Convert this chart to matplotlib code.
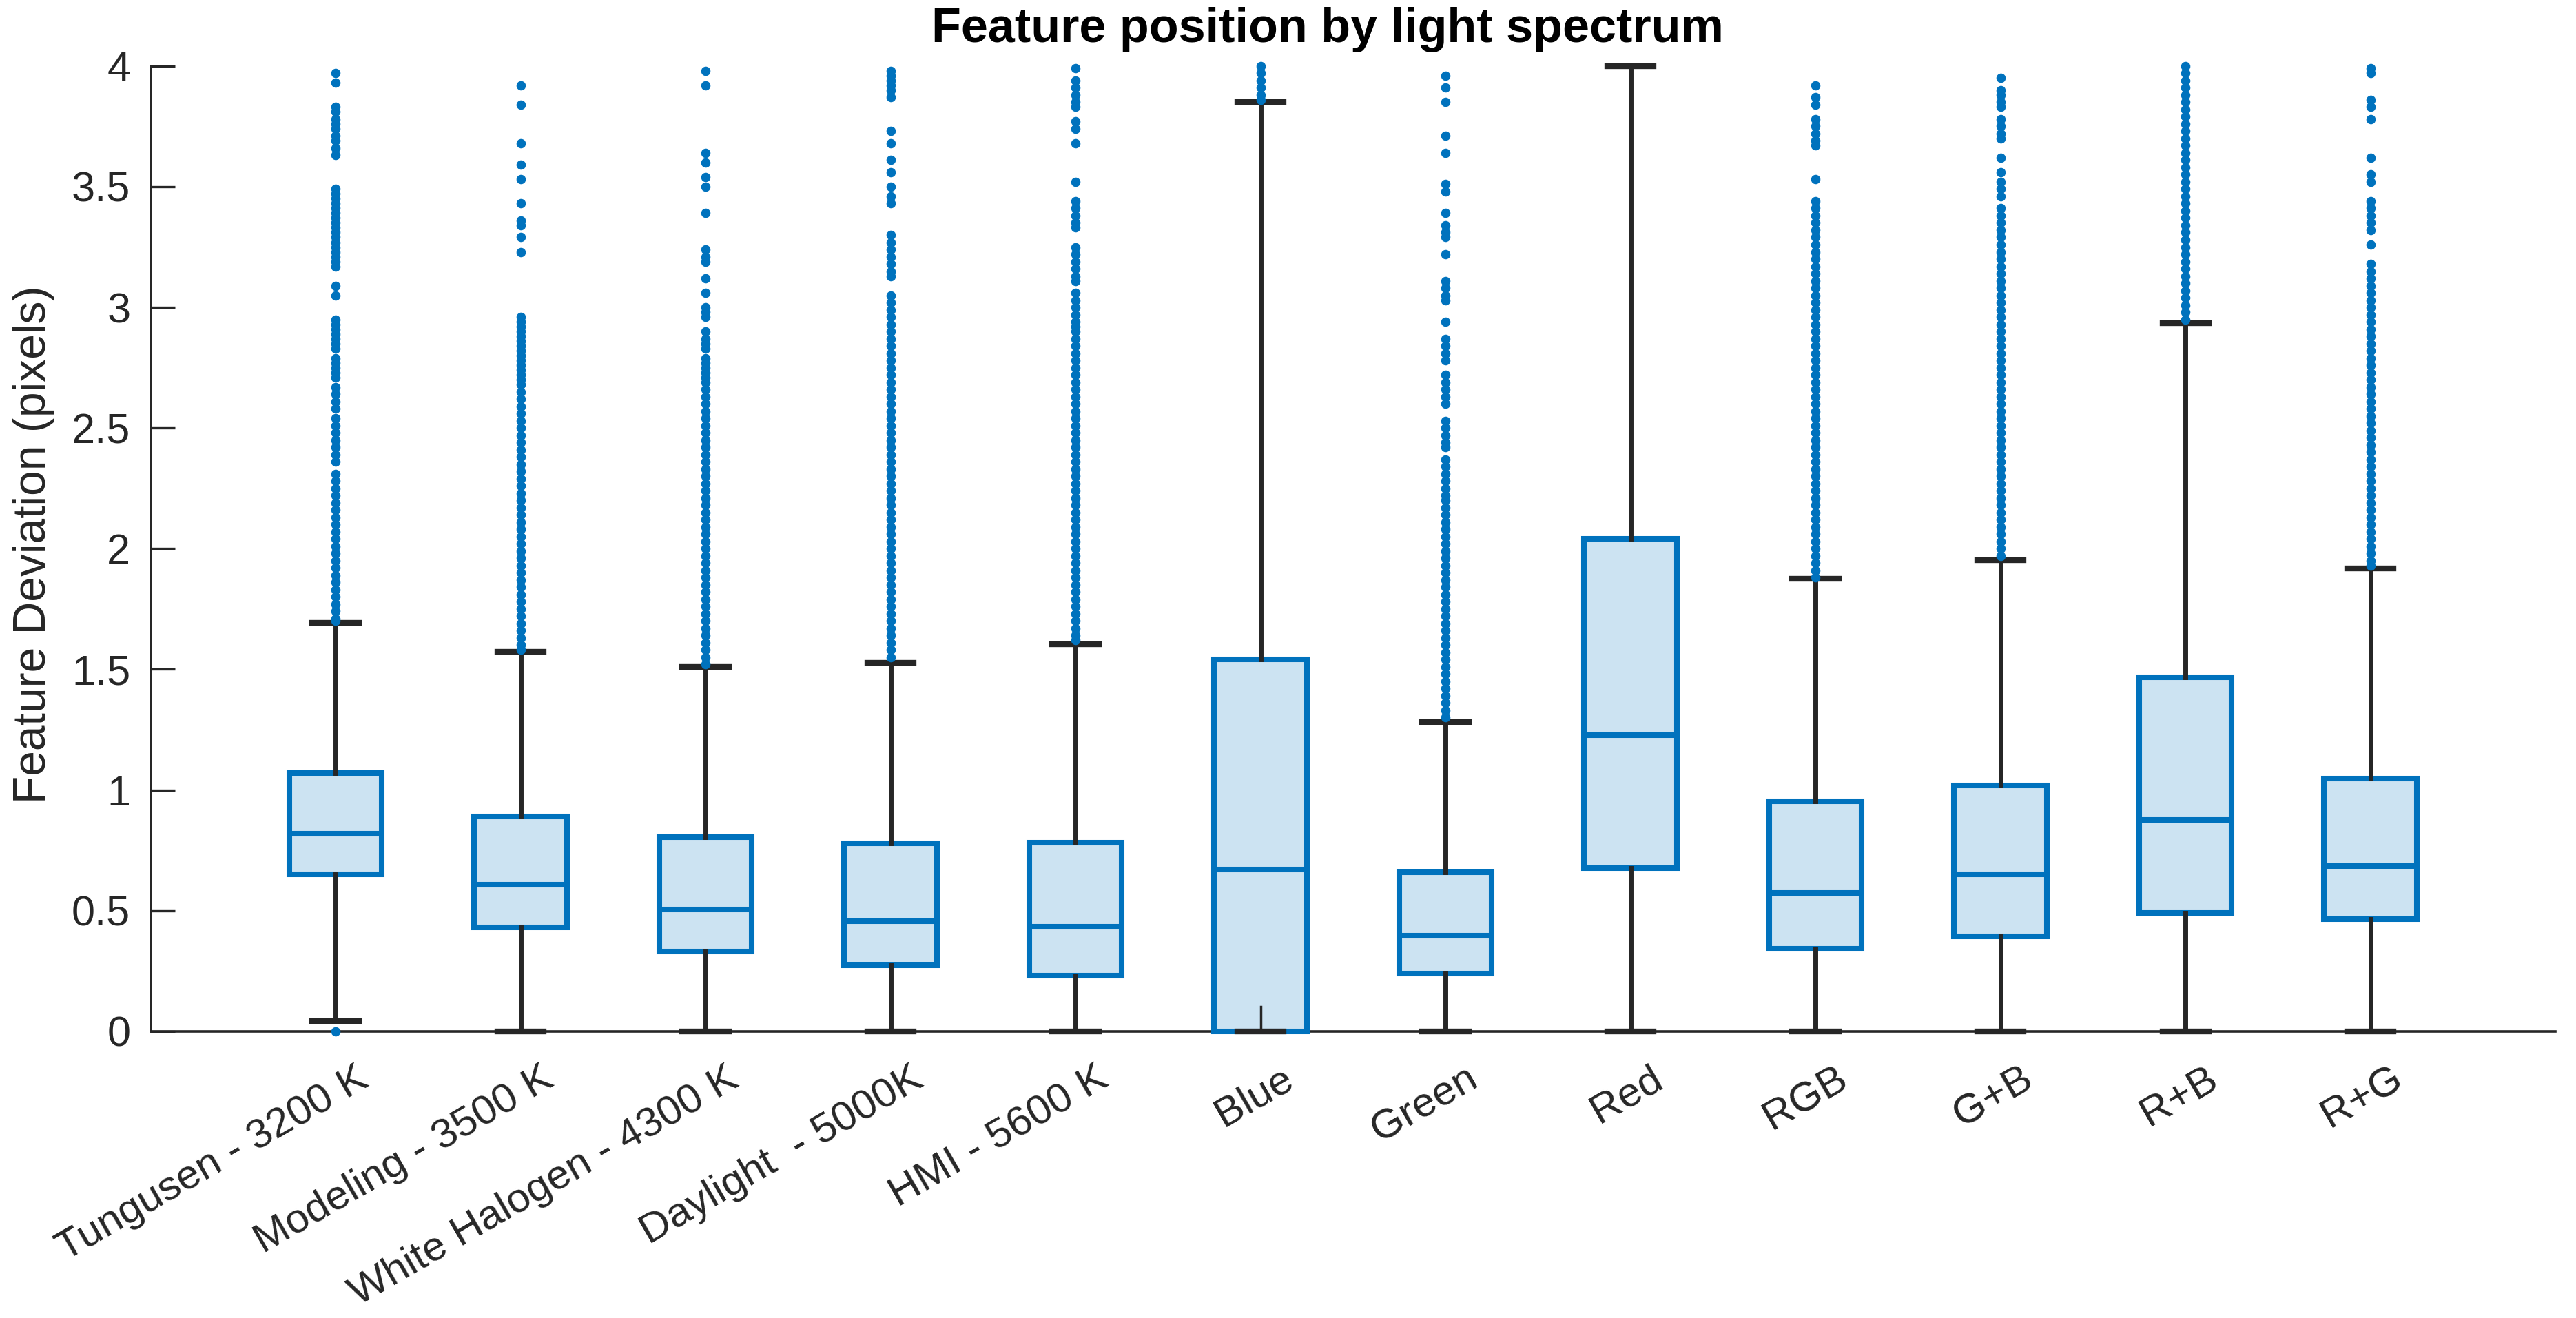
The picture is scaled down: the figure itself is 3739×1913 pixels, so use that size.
import matplotlib
matplotlib.use('Agg')
import matplotlib.pyplot as plt
from matplotlib.transforms import ScaledTranslation

plt.rcParams['font.family'] = ['Liberation Sans', 'DejaVu Sans']

categories = ['Tungusen - 3200 K', 'Modeling - 3500 K', 'White Halogen - 4300 K',
              'Daylight  - 5000K', 'HMI - 5600 K', 'Blue', 'Green', 'Red',
              'RGB', 'G+B', 'R+B', 'R+G']

q1 = [0.651, 0.431, 0.330, 0.274, 0.230, 0.0, 0.238, 0.675, 0.343, 0.393, 0.490, 0.464]
median = [0.820, 0.607, 0.505, 0.456, 0.434, 0.670, 0.395, 1.226, 0.574, 0.651, 0.875, 0.684]
q3 = [1.069, 0.889, 0.805, 0.779, 0.782, 1.541, 0.659, 2.041, 0.954, 1.020, 1.467, 1.048]
whisker_low = [0.043, 0.0, 0.0, 0.0, 0.0, 0.0, 0.0, 0.0, 0.0, 0.0, 0.0, 0.0]
whisker_high = [1.693, 1.572, 1.510, 1.528, 1.603, 3.851, 1.282, 4.0, 1.875, 1.951, 2.934, 1.918]
blue_stub_top = 0.103

out_tungusen = [0.0, 3.97, 3.93, 3.83, 3.81, 3.78, 3.76, 3.74, 3.71, 3.69, 3.66, 3.63,
                3.49, 3.47, 3.45, 3.43, 3.41, 3.39, 3.37, 3.35, 3.33, 3.31, 3.29, 3.27,
                3.25, 3.23, 3.21, 3.19, 3.17, 3.09, 3.05, 2.95, 2.93, 2.91, 2.89, 2.87,
                2.85, 2.83, 2.79, 2.77, 2.75, 2.73, 2.71, 2.67, 2.64, 2.61, 2.58, 2.54,
                2.51, 2.48, 2.45, 2.42, 2.39, 2.36, 2.31, 2.28, 2.25, 2.22, 2.19, 2.16,
                2.13, 2.10, 2.07, 2.04, 2.01, 1.98, 1.95, 1.92, 1.89, 1.86, 1.83, 1.80,
                1.77, 1.74, 1.71, 1.70]
out_modeling = [3.92, 3.84, 3.68, 3.59, 3.53, 3.43, 3.36, 3.34, 3.29, 3.23, 2.96, 2.94,
                2.92, 2.90, 2.88, 2.86, 2.84, 2.82, 2.80, 2.78, 2.76, 2.74, 2.72, 2.70,
                2.68, 2.65, 2.62, 2.59, 2.56, 2.53, 2.50, 2.47, 2.44, 2.41, 2.38, 2.35,
                2.32, 2.29, 2.26, 2.23, 2.20, 2.17, 2.14, 2.11, 2.08, 2.05, 2.02, 1.99,
                1.96, 1.93, 1.90, 1.87, 1.84, 1.81, 1.78, 1.75, 1.72, 1.69, 1.66, 1.63,
                1.60, 1.58]
out_halogen = [3.98, 3.92, 3.64, 3.60, 3.54, 3.50, 3.39, 3.24, 3.21, 3.19, 3.12, 3.06,
               3.00, 2.98, 2.96, 2.90, 2.87, 2.85, 2.83, 2.79, 2.77, 2.75, 2.73, 2.71,
               2.69, 2.66, 2.63, 2.60, 2.57, 2.54, 2.51, 2.48, 2.45, 2.42, 2.39, 2.36,
               2.33, 2.30, 2.27, 2.24, 2.21, 2.18, 2.15, 2.12, 2.09, 2.06, 2.03, 2.00,
               1.97, 1.94, 1.91, 1.88, 1.85, 1.82, 1.79, 1.76, 1.73, 1.70, 1.67, 1.64,
               1.61, 1.58, 1.55, 1.52]
out_daylight = [3.98, 3.96, 3.94, 3.92, 3.90, 3.87, 3.73, 3.68, 3.61, 3.56, 3.50, 3.46,
                3.43, 3.30, 3.27, 3.24, 3.21, 3.18, 3.15, 3.13, 3.05, 3.02, 2.99, 2.96,
                2.93, 2.90, 2.87, 2.84, 2.81, 2.78, 2.75, 2.72, 2.69, 2.66, 2.63, 2.60,
                2.57, 2.54, 2.51, 2.48, 2.45, 2.42, 2.39, 2.36, 2.33, 2.30, 2.27, 2.24,
                2.21, 2.18, 2.15, 2.12, 2.09, 2.06, 2.03, 2.00, 1.97, 1.94, 1.91, 1.88,
                1.85, 1.82, 1.79, 1.76, 1.73, 1.70, 1.67, 1.64, 1.61, 1.58, 1.55]
out_hmi = [3.99, 3.94, 3.91, 3.88, 3.85, 3.83, 3.77, 3.74, 3.68, 3.52, 3.44, 3.41,
           3.38, 3.35, 3.33, 3.25, 3.22, 3.19, 3.16, 3.13, 3.11, 3.06, 3.03, 3.00,
           2.97, 2.94, 2.92, 2.90, 2.87, 2.84, 2.81, 2.78, 2.75, 2.72, 2.69, 2.66,
           2.63, 2.60, 2.57, 2.54, 2.51, 2.48, 2.45, 2.42, 2.39, 2.36, 2.33, 2.30,
           2.27, 2.24, 2.21, 2.18, 2.15, 2.12, 2.09, 2.06, 2.03, 2.00, 1.97, 1.94,
           1.91, 1.88, 1.85, 1.82, 1.79, 1.76, 1.73, 1.70, 1.67, 1.64, 1.62]
out_blue = [4.00, 3.97, 3.94, 3.91, 3.88, 3.86]
out_green = [3.96, 3.91, 3.85, 3.71, 3.64, 3.51, 3.48, 3.39, 3.34, 3.31, 3.29, 3.22,
             3.11, 3.08, 3.05, 3.03, 2.94, 2.87, 2.84, 2.81, 2.78, 2.72, 2.69, 2.66,
             2.63, 2.60, 2.53, 2.50, 2.47, 2.44, 2.42, 2.37, 2.34, 2.31, 2.28, 2.25,
             2.22, 2.20, 2.17, 2.14, 2.11, 2.08, 2.05, 2.02, 1.99, 1.96, 1.93, 1.90,
             1.87, 1.84, 1.81, 1.78, 1.75, 1.72, 1.69, 1.66, 1.63, 1.60, 1.57, 1.54,
             1.51, 1.48, 1.45, 1.42, 1.39, 1.36, 1.33, 1.30]
out_red = []
out_rgb = [3.92, 3.87, 3.84, 3.78, 3.75, 3.72, 3.69, 3.67, 3.53, 3.44, 3.41, 3.38,
           3.35, 3.32, 3.29, 3.26, 3.23, 3.20, 3.17, 3.14, 3.11, 3.08, 3.05, 3.02,
           2.99, 2.96, 2.93, 2.90, 2.87, 2.84, 2.81, 2.78, 2.75, 2.72, 2.69, 2.66,
           2.63, 2.60, 2.57, 2.54, 2.51, 2.48, 2.45, 2.42, 2.39, 2.36, 2.33, 2.30,
           2.27, 2.24, 2.21, 2.18, 2.15, 2.12, 2.09, 2.06, 2.03, 2.00, 1.97, 1.94,
           1.91, 1.88]
out_gb = [3.95, 3.90, 3.88, 3.85, 3.83, 3.78, 3.75, 3.72, 3.70, 3.62, 3.56, 3.52,
          3.49, 3.46, 3.41, 3.38, 3.35, 3.32, 3.29, 3.26, 3.23, 3.20, 3.17, 3.14,
          3.11, 3.08, 3.05, 3.02, 2.99, 2.96, 2.93, 2.90, 2.87, 2.84, 2.81, 2.78,
          2.75, 2.72, 2.69, 2.66, 2.63, 2.60, 2.57, 2.54, 2.51, 2.48, 2.45, 2.42,
          2.39, 2.36, 2.33, 2.30, 2.27, 2.24, 2.21, 2.18, 2.15, 2.12, 2.09, 2.06,
          2.03, 2.00, 1.97]
out_rb = [4.00, 3.97, 3.94, 3.91, 3.88, 3.85, 3.82, 3.79, 3.76, 3.73, 3.70, 3.67,
          3.64, 3.61, 3.58, 3.55, 3.52, 3.49, 3.46, 3.43, 3.40, 3.37, 3.34, 3.31,
          3.28, 3.25, 3.22, 3.19, 3.16, 3.13, 3.10, 3.07, 3.04, 3.01, 2.98, 2.95]
out_rg = [3.99, 3.97, 3.86, 3.83, 3.78, 3.62, 3.55, 3.52, 3.44, 3.41, 3.38, 3.35,
          3.32, 3.26, 3.18, 3.15, 3.12, 3.09, 3.06, 3.03, 3.00, 2.97, 2.94, 2.91,
          2.88, 2.85, 2.82, 2.79, 2.76, 2.73, 2.70, 2.67, 2.64, 2.61, 2.58, 2.55,
          2.52, 2.49, 2.46, 2.43, 2.40, 2.37, 2.34, 2.31, 2.28, 2.25, 2.22, 2.19,
          2.16, 2.13, 2.10, 2.07, 2.04, 2.01, 1.98, 1.95, 1.93]

outliers = [out_tungusen, out_modeling, out_halogen, out_daylight, out_hmi, out_blue,
            out_green, out_red, out_rgb, out_gb, out_rb, out_rg]

EDGE = '#0072BD'
FILL = '#CCE3F2'
DARK = '#262626'

fig = plt.figure(figsize=(37.39, 19.13), dpi=100)
ax = fig.add_axes([0.05844, 0.2176, 0.93356, 0.7323])

positions = list(range(1, len(categories) + 1))
stats = []
for i in range(len(categories)):
    stats.append(dict(med=median[i], q1=q1[i], q3=q3[i], whislo=whisker_low[i],
                      whishi=whisker_high[i], fliers=outliers[i]))

art = ax.bxp(stats, positions=positions, widths=0.5, capwidths=0.25,
             patch_artist=True, manage_ticks=False,
             boxprops=dict(facecolor=FILL, edgecolor=EDGE, linewidth=5.8),
             medianprops=dict(color=EDGE, linewidth=5.8),
             whiskerprops=dict(color=DARK, linewidth=5),
             capprops=dict(color=DARK, linewidth=6),
             flierprops=dict(marker='o', markerfacecolor=EDGE, markeredgecolor='none',
                             markersize=9.8, linestyle='none'))
for key in art:
    for a in art[key]:
        a.set_clip_on(False)
for a in art['fliers']:
    a.set_zorder(4)

ax.plot([6, 6], [0, blue_stub_top], color=DARK, linewidth=2.5, zorder=5, clip_on=False)

ax.set_xlim(0, 13)
ax.set_ylim(0, 4)
ax.set_yticks([0, 0.5, 1, 1.5, 2, 2.5, 3, 3.5, 4])
ax.set_yticklabels(['0', '0.5', '1', '1.5', '2', '2.5', '3', '3.5', '4'])

for s in ['top', 'right']:
    ax.spines[s].set_visible(False)
for s in ['left', 'bottom']:
    ax.spines[s].set_linewidth(2.6)
    ax.spines[s].set_color(DARK)
    ax.spines[s].set_zorder(1)

ax.tick_params(axis='y', direction='in', length=25, width=2.4, colors=DARK,
               labelsize=44, pad=21)
ax.tick_params(axis='x', length=0, colors=DARK, labelsize=43.5, pad=0)

ax.set_xticks(positions)
ax.set_xticklabels(categories, rotation=30, ha='right', va='top', rotation_mode='anchor')
offset = ScaledTranslation(0.29, -0.41, fig.dpi_scale_trans)
for lab in ax.get_xticklabels():
    lab.set_transform(lab.get_transform() + offset)

ax.set_ylabel('Feature Deviation (pixels)', fontsize=47.5, color=DARK)
ax.yaxis.set_label_coords(-0.0396, 0.504)

fig.text(0.5153, 0.9776, 'Feature position by light spectrum', fontsize=50.5,
         fontweight='bold', ha='center', va='center', color='black')

fig.savefig('out.png', dpi=100)
